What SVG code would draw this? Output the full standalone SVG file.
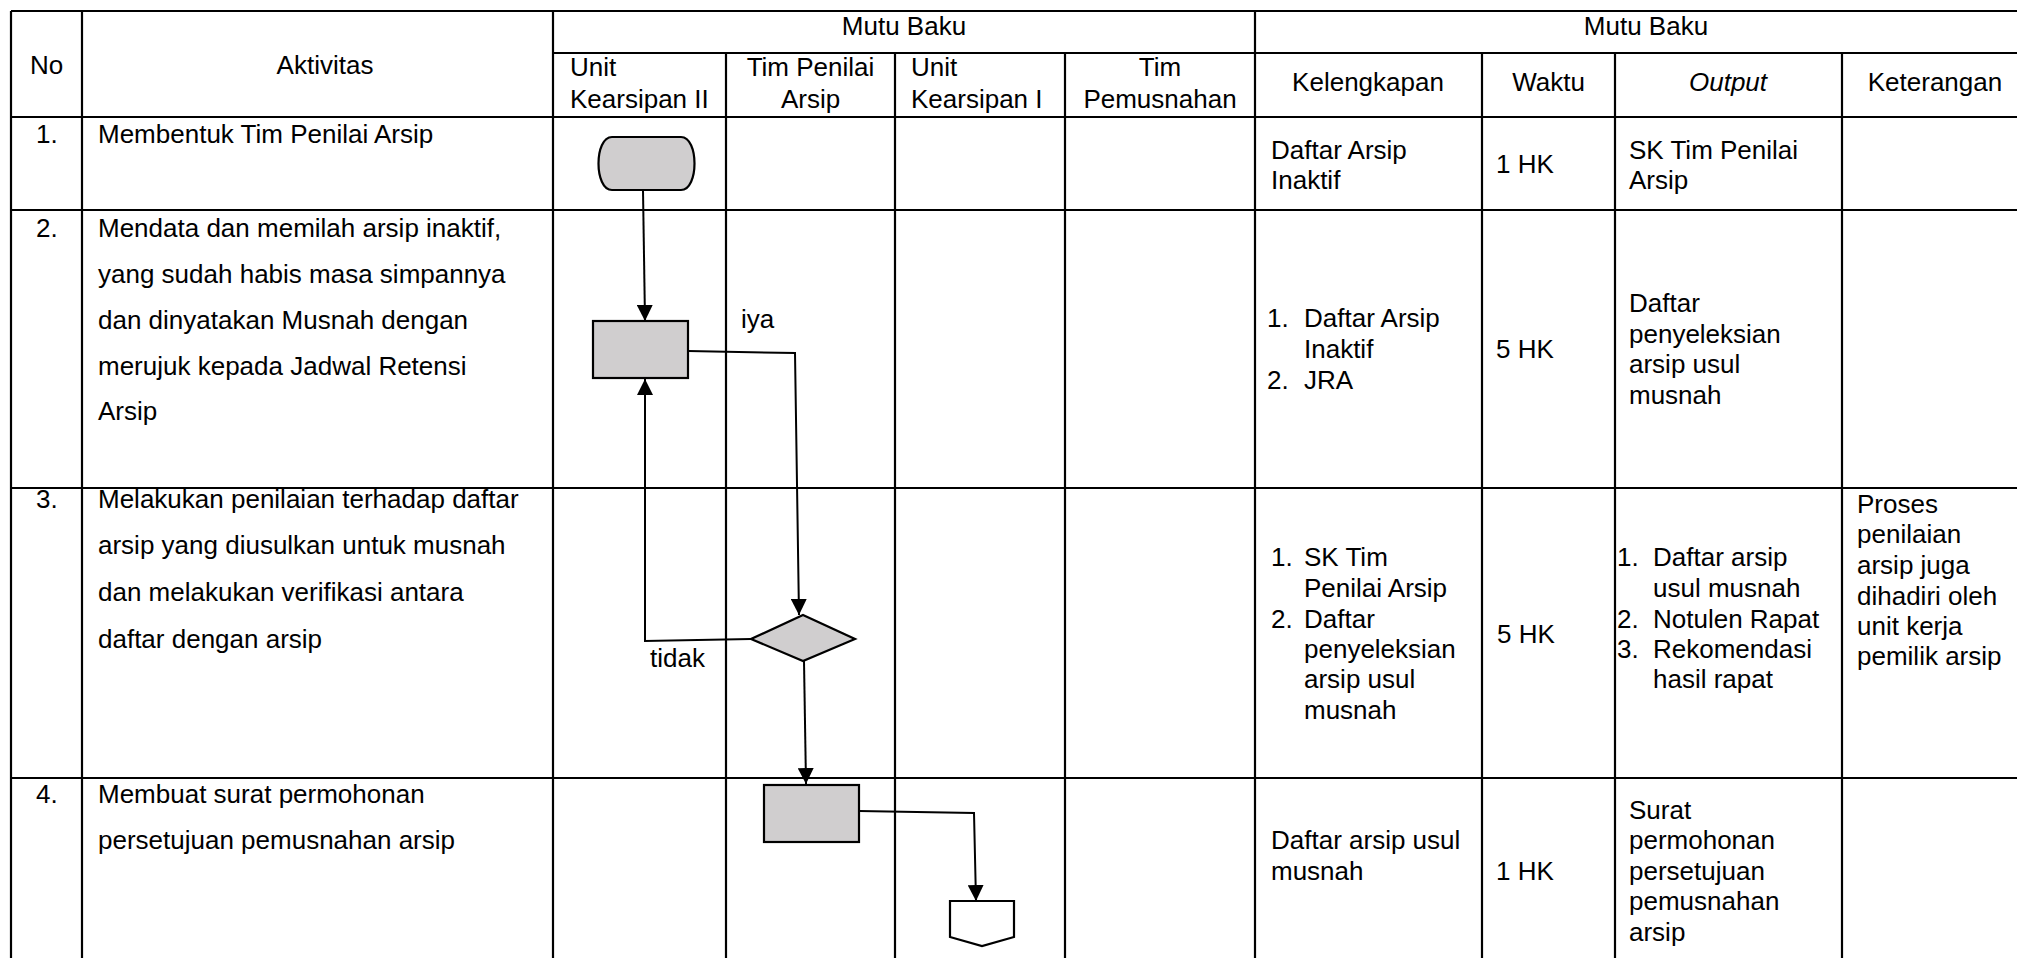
<svg xmlns="http://www.w3.org/2000/svg" width="2017" height="958" viewBox="0 0 2017 958">
<style>
.g line{stroke:#000;stroke-width:2.2}
text{font-family:"Liberation Sans",Arial,sans-serif;font-size:26px;fill:#000}
.m{text-anchor:middle}
.i{font-style:italic}
.s{fill:#d0cecf;stroke:#000;stroke-width:2.2}
.w{fill:#fff;stroke:#000;stroke-width:2.2}
.c path{fill:none;stroke:#000;stroke-width:2}
</style>
<defs>
<marker id="ah" markerUnits="userSpaceOnUse" markerWidth="16" markerHeight="16" refX="16" refY="8" orient="auto">
<path d="M0,0 L16,8 L0,16 z" fill="#000"/>
</marker>
</defs>
<rect width="2017" height="958" fill="#fff"/>
<g id="grid" class="g">
<line x1="11" y1="11" x2="2017" y2="11"/>
<line x1="553" y1="53" x2="2017" y2="53"/>
<line x1="11" y1="117" x2="2017" y2="117"/>
<line x1="11" y1="210" x2="2017" y2="210"/>
<line x1="11" y1="488" x2="2017" y2="488"/>
<line x1="11" y1="778" x2="2017" y2="778"/>
<line x1="11" y1="11" x2="11" y2="958"/>
<line x1="82" y1="11" x2="82" y2="958"/>
<line x1="553" y1="11" x2="553" y2="958"/>
<line x1="726" y1="53" x2="726" y2="958"/>
<line x1="895" y1="53" x2="895" y2="958"/>
<line x1="1065" y1="53" x2="1065" y2="958"/>
<line x1="1255" y1="11" x2="1255" y2="958"/>
<line x1="1482" y1="53" x2="1482" y2="958"/>
<line x1="1615" y1="53" x2="1615" y2="958"/>
<line x1="1842" y1="53" x2="1842" y2="958"/>
</g>
<g id="header">
<text class="m" x="46.5" y="74">No</text>
<text class="m" x="325" y="74">Aktivitas</text>
<text class="m" x="904" y="35">Mutu Baku</text>
<text class="m" x="1646" y="35">Mutu Baku</text>
<text x="570" y="76">Unit</text>
<text x="570" y="108">Kearsipan II</text>
<text class="m" x="810.5" y="76">Tim Penilai</text>
<text class="m" x="810.5" y="108">Arsip</text>
<text x="911" y="76">Unit</text>
<text x="911" y="108">Kearsipan I</text>
<text class="m" x="1160" y="76">Tim</text>
<text class="m" x="1160" y="108">Pemusnahan</text>
<text class="m" x="1368" y="91">Kelengkapan</text>
<text class="m" x="1548.5" y="91">Waktu</text>
<text class="m i" x="1728" y="91">Output</text>
<text class="m" x="1935" y="91">Keterangan</text>
</g>
<g id="row1">
<text x="36" y="143">1.</text>
<text x="98" y="143">Membentuk Tim Penilai Arsip</text>
<text x="1271" y="159">Daftar Arsip</text>
<text x="1271" y="189">Inaktif</text>
<text x="1496" y="173">1 HK</text>
<text x="1629" y="159">SK Tim Penilai</text>
<text x="1629" y="189">Arsip</text>
</g>
<g id="row2">
<text x="36" y="237">2.</text>
<text x="98" y="237">Mendata dan memilah arsip inaktif,</text>
<text x="98" y="283">yang sudah habis masa simpannya</text>
<text x="98" y="329">dan dinyatakan Musnah dengan</text>
<text x="98" y="375">merujuk kepada Jadwal Retensi</text>
<text x="98" y="420">Arsip</text>
<text x="1267" y="327">1.</text>
<text x="1304" y="327">Daftar Arsip</text>
<text x="1304" y="358">Inaktif</text>
<text x="1267" y="389">2.</text>
<text x="1304" y="389">JRA</text>
<text x="1496" y="358">5 HK</text>
<text x="1629" y="312">Daftar</text>
<text x="1629" y="343">penyeleksian</text>
<text x="1629" y="373">arsip usul</text>
<text x="1629" y="404">musnah</text>
</g>
<g id="row3">
<text x="36" y="508">3.</text>
<text x="98" y="508">Melakukan penilaian terhadap daftar</text>
<text x="98" y="554">arsip yang diusulkan untuk musnah</text>
<text x="98" y="601">dan melakukan verifikasi antara</text>
<text x="98" y="648">daftar dengan arsip</text>
<text x="1271" y="566">1.</text>
<text x="1304" y="566">SK Tim</text>
<text x="1304" y="597">Penilai Arsip</text>
<text x="1271" y="628">2.</text>
<text x="1304" y="628">Daftar</text>
<text x="1304" y="658">penyeleksian</text>
<text x="1304" y="688">arsip usul</text>
<text x="1304" y="719">musnah</text>
<text x="1497" y="643">5 HK</text>
<text x="1617" y="566">1.</text>
<text x="1653" y="566">Daftar arsip</text>
<text x="1653" y="597">usul musnah</text>
<text x="1617" y="628">2.</text>
<text x="1653" y="628">Notulen Rapat</text>
<text x="1617" y="658">3.</text>
<text x="1653" y="658">Rekomendasi</text>
<text x="1653" y="688">hasil rapat</text>
<text x="1857" y="513">Proses</text>
<text x="1857" y="543">penilaian</text>
<text x="1857" y="574">arsip juga</text>
<text x="1857" y="605">dihadiri oleh</text>
<text x="1857" y="635">unit kerja</text>
<text x="1857" y="665">pemilik arsip</text>
</g>
<g id="row4">
<text x="36" y="803">4.</text>
<text x="98" y="803">Membuat surat permohonan</text>
<text x="98" y="849">persetujuan pemusnahan arsip</text>
<text x="1271" y="849">Daftar arsip usul</text>
<text x="1271" y="880">musnah</text>
<text x="1496" y="880">1 HK</text>
<text x="1629" y="819">Surat</text>
<text x="1629" y="849">permohonan</text>
<text x="1629" y="880">persetujuan</text>
<text x="1629" y="910">pemusnahan</text>
<text x="1629" y="941">arsip</text>
</g>
<g id="connectors" class="c">
<path d="M643,190 L645,321" marker-end="url(#ah)"/>
<path d="M688,351 L795,353 L799,615" marker-end="url(#ah)"/>
<path d="M751,639 L645,641 L645,379" marker-end="url(#ah)"/>
<path d="M804,661 L806,784" marker-end="url(#ah)"/>
<path d="M859,811 L974,813 L976,901" marker-end="url(#ah)"/>
<text x="741" y="328">iya</text>
<text x="650" y="667">tidak</text>
</g>
<g id="n1-start">
<path class="s" d="M612,137 H681 C699,137 699,190 681,190 H612 C594,190 594,137 612,137 Z"/>
</g>
<g id="n2-mendata">
<rect class="s" x="593" y="321" width="95" height="57"/>
</g>
<g id="n3-decision">
<path class="s" d="M803,615 L855,639 L803,661 L751,639 Z"/>
</g>
<g id="n4-surat">
<rect class="s" x="764" y="785" width="95" height="57"/>
</g>
<g id="n5-offpage">
<path class="w" d="M950,901 H1014 V937 L982,946 L950,937 Z"/>
</g>
</svg>
